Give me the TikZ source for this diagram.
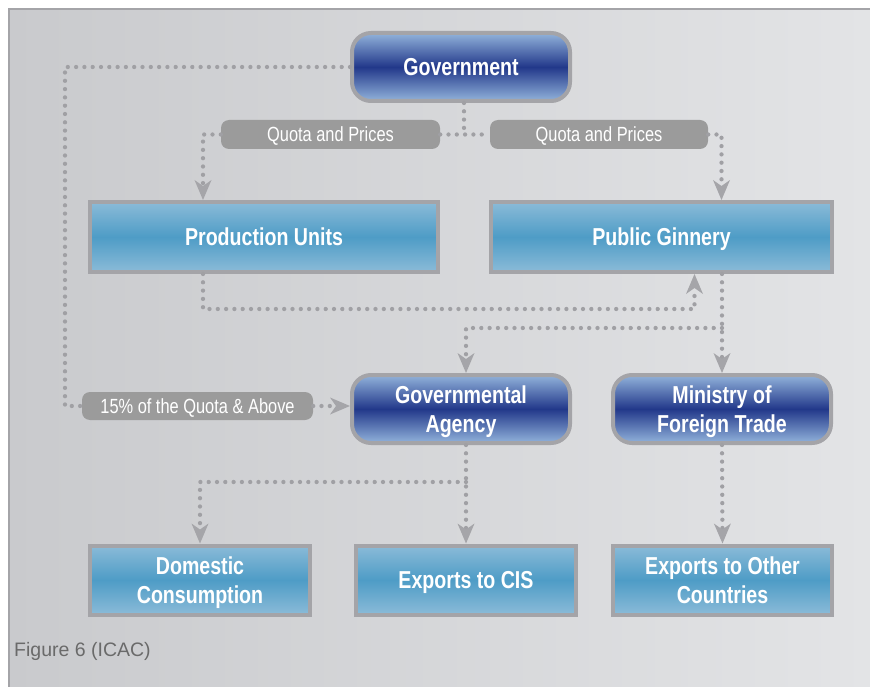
\documentclass[tikz,border=0pt]{standalone}
\usepackage{fontspec}
\setmainfont{Liberation Sans}[FakeStretch=0.8]
\newfontfamily\capfont{Liberation Sans}
\usetikzlibrary{arrows.meta,calc}
\definecolor{dotc}{HTML}{A0A0A4}
\definecolor{tipc}{HTML}{A5A5A9}
\definecolor{bordc}{HTML}{A4A4A8}
\definecolor{panelL}{HTML}{C9CACD}
\definecolor{panelR}{HTML}{E3E4E6}
\definecolor{blueL}{HTML}{92B3DB}
\definecolor{blueD}{HTML}{22388A}
\definecolor{cyanL}{HTML}{8BBBD8}
\definecolor{cyanD}{HTML}{4E9CC6}
\definecolor{pillc}{HTML}{9B9B9B}
\definecolor{capc}{HTML}{6A6A6A}
\begin{document}
\begin{tikzpicture}[x=1pt,y=-1pt,
  bluebox/.style={draw=bordc, line width=4pt, rounded corners=19pt,
    top color=blueL, bottom color=blueL, middle color=blueD,
    minimum width=218pt, minimum height=68pt, inner sep=0pt, text depth=0pt,
    text=white, align=center, font=\bfseries\fontsize{24.5}{29}\selectfont},
  cyanbox/.style={draw=bordc, line width=4pt,
    top color=cyanL, bottom color=cyanL, middle color=cyanD,
    minimum height=69pt, inner sep=0pt, text depth=0pt,
    text=white, align=center, font=\bfseries\fontsize{24.5}{29}\selectfont},
  pill/.style={fill=pillc, rounded corners=8pt, minimum height=29pt, inner sep=0pt,
    text depth=0pt, text=white, font=\fontsize{20.5}{22}\selectfont},
  dotline/.style={draw=dotc, line width=4.3pt, line cap=round, dash pattern=on 0pt off 8.3pt},
  tip/.style={-{Stealth[length=20pt,width=17pt,inset=6pt,line width=0pt,color=tipc]}}
]
\useasboundingbox (0,0) rectangle (870,687);
\fill[left color=panelL, right color=panelR] (9,9) rectangle (870,687);
\draw[bordc, line width=1.2pt] (9,687) -- (9,9) -- (870,9);

% nodes
\node[bluebox] (gov) at (461,67) {Government};
\node[pill, minimum width=219pt] (ql) at (330.5,134.5) {Quota and Prices};
\node[pill, minimum width=218pt] (qr) at (599,134.5) {Quota and Prices};
\node[cyanbox, minimum width=348pt, minimum height=70pt] (pu) at (264,237) {Production Units};
\node[cyanbox, minimum width=341pt, minimum height=70pt] (pg) at (661.5,237) {Public Ginnery};
\node[bluebox] (ga) at (461,409) {Governmental\\Agency};
\node[bluebox] (mft) at (722,409) {Ministry of\\Foreign Trade};
\node[pill, minimum width=231pt, minimum height=28pt] (p15) at (197.5,406) {15\% of the Quota \& Above};
\node[cyanbox, minimum width=220pt] (dc) at (200,580) {Domestic\\Consumption};
\node[cyanbox, minimum width=220pt] (cis) at (466,580) {Exports to CIS};
\node[cyanbox, minimum width=219pt] (oc) at (722.5,580) {Exports to Other\\Countries};
\node[anchor=west, text=capc, inner sep=0pt, font=\capfont\fontsize{19.5}{22}\selectfont] (cap) at (14,651) {Figure 6 (ICAC)};

% connectors
\coordinate (c1) at (65,406);
\draw[dotline] (gov.west) -| (c1) -- (p15.west);
\draw[dotline,tip] (p15.east) -- (ga.west |- p15.east);
\draw[dotline] ([xshift=3pt]gov.south) -- ([xshift=3pt]gov.south |- ql.east);
\draw[dotline] (ql.east) -- (qr.west);
\draw[dotline,tip] (ql.west) -| ([xshift=-61pt]pu.north);
\draw[dotline,tip] (qr.east) -| ([xshift=60pt]pg.north);
\draw[dotline,tip] ([xshift=-61pt]pu.south) -- ++(0,35) -| ([xshift=33pt]pg.south);
\draw[dotline,tip] ([xshift=60.5pt]pg.south) -- (mft.north);
\draw[dotline,tip] (mft.north |- 0,328) -| ([xshift=5pt]ga.north);
\draw[dotline,tip] ([xshift=5pt]ga.south) -- (cis.north);
\draw[dotline,tip] ([xshift=5pt]ga.south |- 0,482) -| (dc.north);
\draw[dotline,tip] (mft.south) -- (oc.north);
\end{tikzpicture}
\end{document}
